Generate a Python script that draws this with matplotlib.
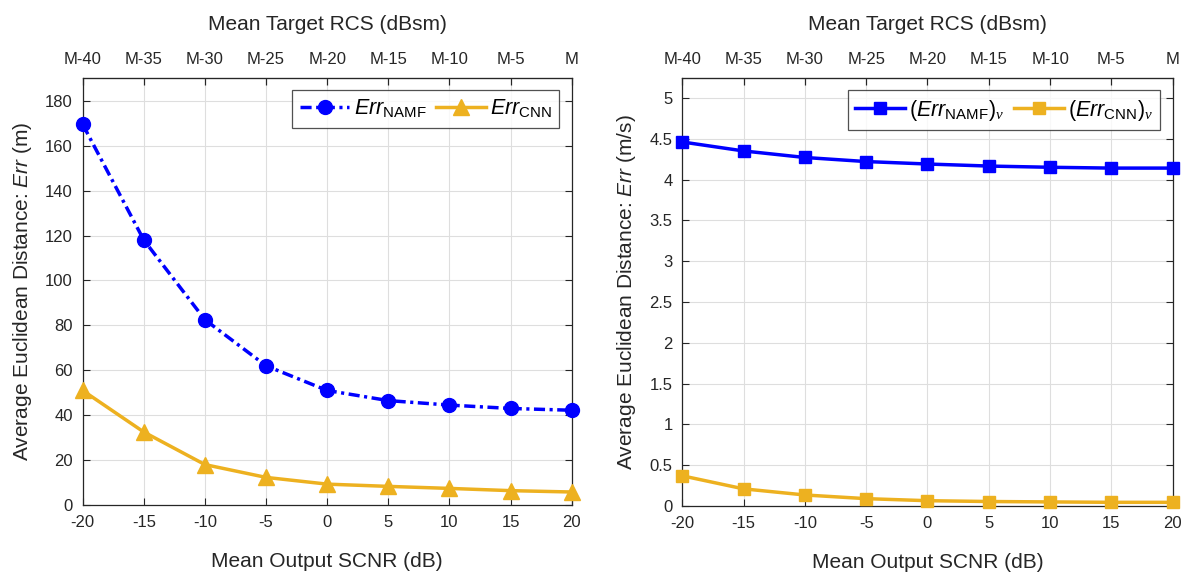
import matplotlib
matplotlib.use("Agg")
import matplotlib.pyplot as plt
from matplotlib.ticker import FormatStrFormatter

plt.rcParams['font.family'] = ['Liberation Sans', 'DejaVu Sans']
plt.rcParams['axes.unicode_minus'] = False
plt.rcParams['mathtext.fontset'] = 'custom'
plt.rcParams['mathtext.rm'] = 'Liberation Sans'
plt.rcParams['mathtext.it'] = 'Liberation Sans:italic'
plt.rcParams['mathtext.bf'] = 'Liberation Serif:italic'

# Data
scnr = [-20, -15, -10, -5, 0, 5, 10, 15, 20]
rcs_labels = ['M-40', 'M-35', 'M-30', 'M-25', 'M-20', 'M-15', 'M-10', 'M-5', 'M']
err_namf = [169.5, 118.0, 82.5, 62.0, 51.0, 46.5, 44.5, 43.0, 42.2]
err_cnn = [51.0, 32.5, 18.0, 12.3, 9.3, 8.3, 7.4, 6.4, 5.8]
errv_namf = [4.46, 4.35, 4.27, 4.22, 4.19, 4.165, 4.15, 4.14, 4.14]
errv_cnn = [0.37, 0.21, 0.135, 0.09, 0.065, 0.055, 0.05, 0.045, 0.045]

BLUE = (0, 0, 1)
YEL = (0.929, 0.694, 0.125)
AXC = (0.15, 0.15, 0.15)

fig = plt.figure(figsize=(11.81, 5.75), dpi=100)
ax1 = fig.add_axes([0.0700, 0.1217, 0.4141, 0.7421])
ax2 = fig.add_axes([0.5777, 0.1200, 0.4153, 0.7438])

def style(ax, ylim, yticks):
    ax.set_xlim(-20, 20)
    ax.set_ylim(*ylim)
    ax.set_xticks(scnr)
    ax.set_yticks(yticks)
    ax.grid(True, color=(0.87, 0.87, 0.87), linewidth=0.8)
    ax.set_axisbelow(True)
    for s in ax.spines.values():
        s.set_color(AXC)
        s.set_linewidth(0.9)
    ax.tick_params(direction='in', top=True, right=True, length=5,
                   labelsize=12, colors=AXC, labelcolor=(0.15, 0.15, 0.15), pad=7)
    ax.set_xlabel('Mean Output SCNR (dB)', fontsize=15, color=AXC, labelpad=16)
    sec = ax.secondary_xaxis('top')
    sec.set_xticks(scnr)
    sec.set_xticklabels(rcs_labels)
    sec.tick_params(direction='in', length=5, labelsize=12, colors=AXC, pad=8)
    sec.spines['top'].set_color(AXC)
    sec.set_xlabel('Mean Target RCS (dBsm)', fontsize=15, color=AXC, labelpad=16)

leg_kw = dict(ncol=2, loc='upper right', bbox_to_anchor=(0.975, 0.972), fontsize=15.5,
              frameon=True, fancybox=False, edgecolor=AXC, handlelength=2.3,
              columnspacing=0.45, handletextpad=0.2, borderpad=0.35, borderaxespad=0)

# Left panel
ax1.plot(scnr, err_namf, linestyle=(0, (3.2, 1.3, 0.9, 1.3)), color=BLUE, linewidth=2.5, marker='o',
         markersize=10, label=r'$\mathit{Err}_{\mathrm{NAMF}}$', clip_on=False, zorder=3)
ax1.plot(scnr, err_cnn, linestyle='-', color=YEL, linewidth=2.5, marker='^',
         markersize=11, label=r'$\mathit{Err}_{\mathrm{CNN}}$', clip_on=False, zorder=3)
style(ax1, (0, 190), list(range(0, 181, 20)))
ax1.set_ylabel(r'Average Euclidean Distance: $\mathit{Err}$ (m)', fontsize=15, color=AXC, labelpad=8)
leg1 = ax1.legend(**leg_kw)
leg1.get_frame().set_linewidth(0.9)

# Right panel
ax2.plot(scnr, errv_namf, linestyle='-', color=BLUE, linewidth=2.5, marker='s',
         markersize=9, label=r'$(\mathit{Err}_{\mathrm{NAMF}})_{\mathbf{\nu}}$', clip_on=False, zorder=3)
ax2.plot(scnr, errv_cnn, linestyle='-', color=YEL, linewidth=2.5, marker='s',
         markersize=9, label=r'$(\mathit{Err}_{\mathrm{CNN}})_{\mathbf{\nu}}$', clip_on=False, zorder=3)
style(ax2, (0, 5.24), [0, 0.5, 1, 1.5, 2, 2.5, 3, 3.5, 4, 4.5, 5])
ax2.yaxis.set_major_formatter(FormatStrFormatter('%g'))
ax2.set_ylabel(r'Average Euclidean Distance: $\mathit{Err}$ (m/s)', fontsize=15, color=AXC, labelpad=8)
leg2 = ax2.legend(**leg_kw)
leg2.get_frame().set_linewidth(0.9)

fig.savefig('out.png', dpi=100)
